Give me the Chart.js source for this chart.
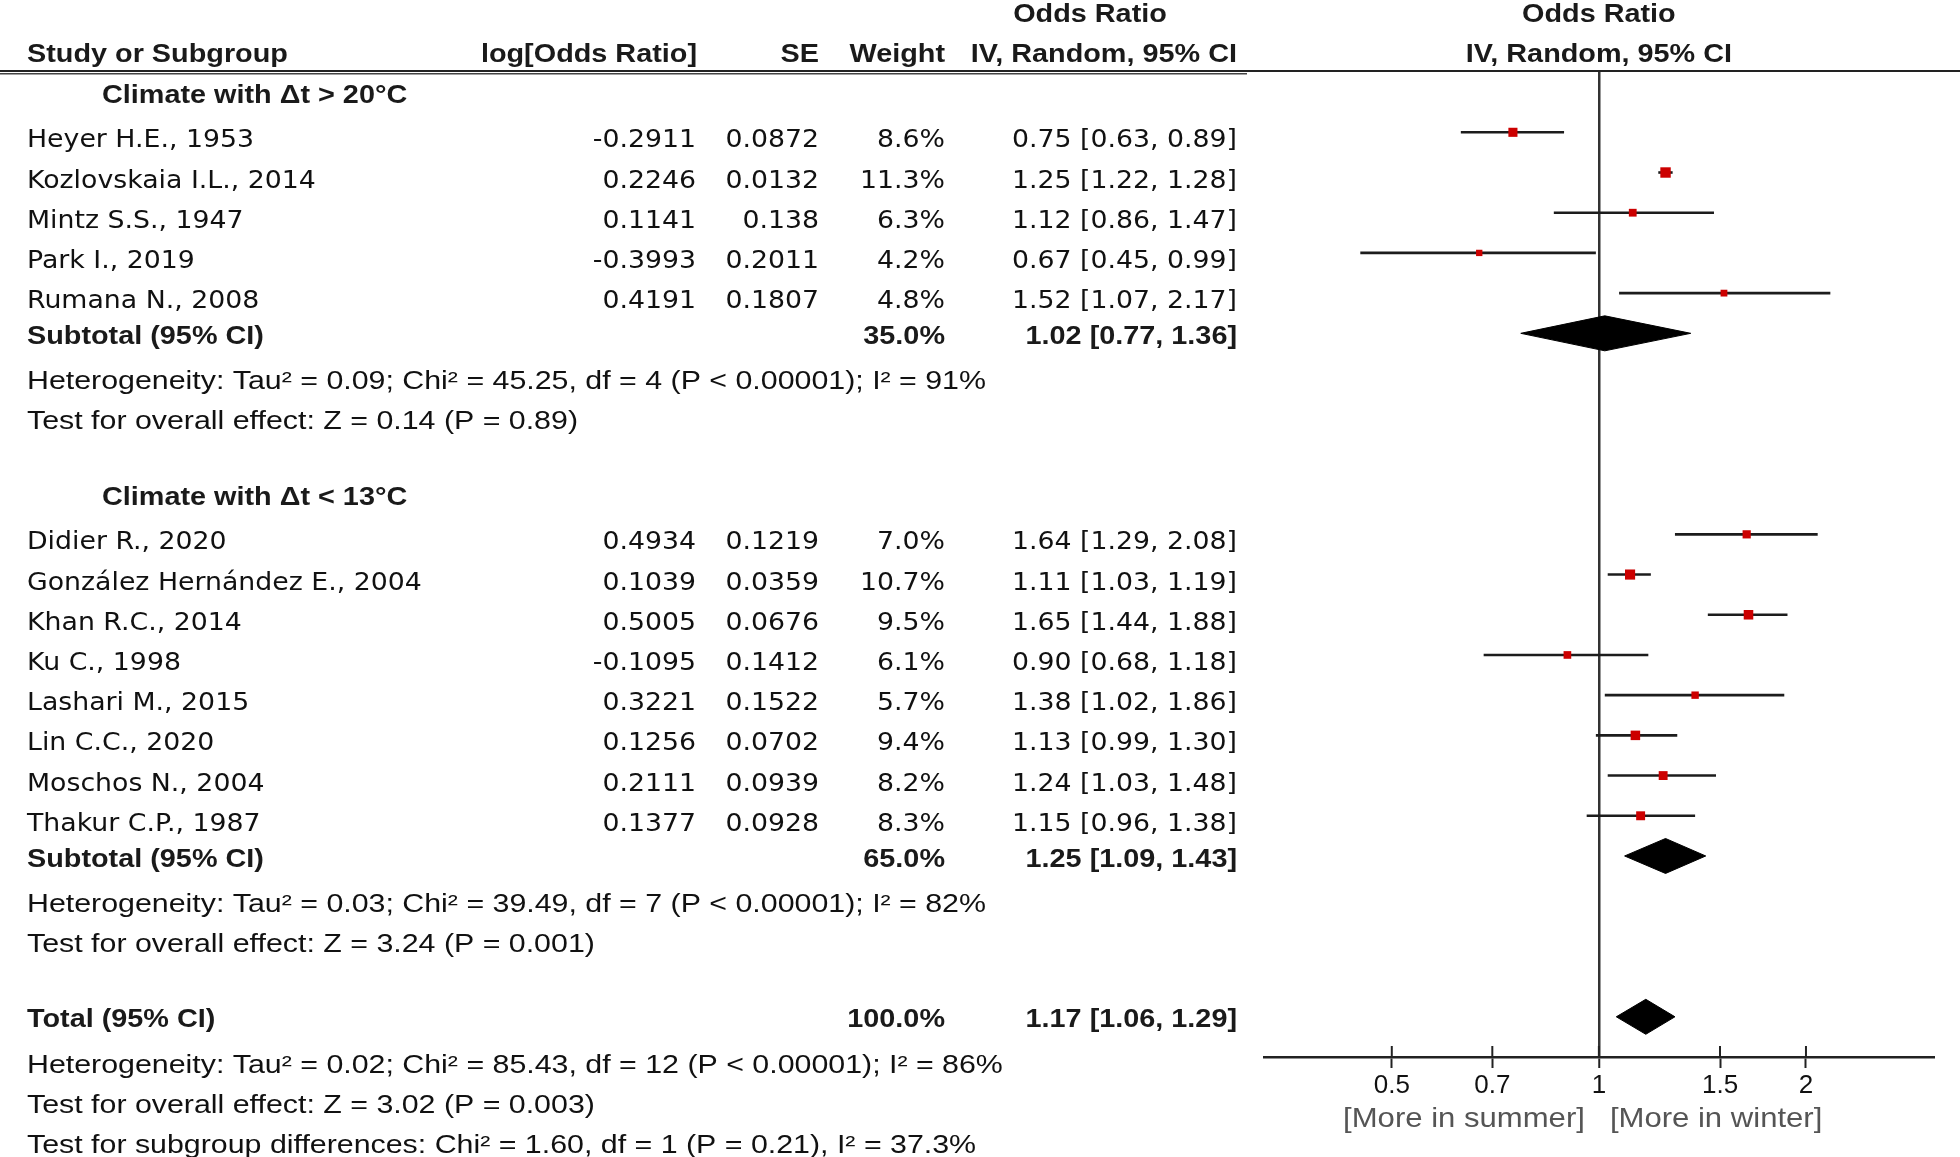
<!DOCTYPE html>
<html>
<head>
<meta charset="utf-8">
<script src="https://cdn.jsdelivr.net/npm/chart.js@4.4.1/dist/chart.umd.min.js"></script>
<style>
  html, body { margin: 0; background: #fff; }
  #wrap { width: 1960px; height: 1157px; position: relative; }
</style>
</head>
<body>
<div id="wrap"><canvas id="forest"></canvas></div>
<script>
// studies
const studies = [
    'Heyer H.E., 1953', 'Kozlovskaia I.L., 2014', 'Mintz S.S., 1947', 'Park I., 2019', 'Rumana N., 2008',
    'Didier R., 2020', 'González Hernández E., 2004', 'Khan R.C., 2014', 'Ku C., 1998',
    'Lashari M., 2015', 'Lin C.C., 2020', 'Moschos N., 2004', 'Thakur C.P., 1987'
];
const groupOf = [0, 0, 0, 0, 0, 1, 1, 1, 1, 1, 1, 1, 1];
const logOR = [-0.2911, 0.2246, 0.1141, -0.3993, 0.4191, 0.4934, 0.1039, 0.5005, -0.1095, 0.3221, 0.1256, 0.2111, 0.1377];
const seVals = [0.0872, 0.0132, 0.138, 0.2011, 0.1807, 0.1219, 0.0359, 0.0676, 0.1412, 0.1522, 0.0702, 0.0939, 0.0928];
const weightPct = [8.6, 11.3, 6.3, 4.2, 4.8, 7.0, 10.7, 9.5, 6.1, 5.7, 9.4, 8.2, 8.3];
const orMid = [0.75, 1.25, 1.12, 0.67, 1.52, 1.64, 1.11, 1.65, 0.90, 1.38, 1.13, 1.24, 1.15];
const ciLow = [0.63, 1.22, 0.86, 0.45, 1.07, 1.29, 1.03, 1.44, 0.68, 1.02, 0.99, 1.03, 0.96];
const ciHigh = [0.89, 1.28, 1.47, 0.99, 2.17, 2.08, 1.19, 1.88, 1.18, 1.86, 1.30, 1.48, 1.38];

// subgroups
const groupNames = ['Climate with \u0394t > 20°C', 'Climate with \u0394t < 13°C'];
const subWeight = [35.0, 65.0];
const subOR = [1.02, 1.25];
const subLow = [0.77, 1.09];
const subHigh = [1.36, 1.43];
const hetLines = [
    'Heterogeneity: Tau² = 0.09; Chi² = 45.25, df = 4 (P < 0.00001); I² = 91%',
    'Heterogeneity: Tau² = 0.03; Chi² = 39.49, df = 7 (P < 0.00001); I² = 82%'
];
const testLines = [
    'Test for overall effect: Z = 0.14 (P = 0.89)',
    'Test for overall effect: Z = 3.24 (P = 0.001)'
];

// overall
const totalWeight = 100.0;
const totalOR = 1.17, totalLow = 1.06, totalHigh = 1.29;
const totalNotes = [
    'Heterogeneity: Tau² = 0.02; Chi² = 85.43, df = 12 (P < 0.00001); I² = 86%',
    'Test for overall effect: Z = 3.02 (P = 0.003)',
    'Test for subgroup differences: Chi² = 1.60, df = 1 (P = 0.21), I² = 37.3%'
];

// axis
const xTicks = [0.5, 0.7, 1, 1.5, 2];
const axisMin = 0.326, axisMax = 3.07;
const favourLabels = ['[More in summer]', '[More in winter]'];

//rows (one per text line)
const studyRow = [], headRow = [], subRow = [], hetRow = [], testRow = [];
let r = 2;
[0, 1].forEach(g => {
    headRow[g] = r++;
    groupOf.forEach((gg, i) => { if (gg === g) studyRow[i] = r++; });
    subRow[g] = r++;
    hetRow[g] = r++;
    testRow[g] = r++;
    r++;
});
const totalRow = r;
const dh = 0.435; // diamond half height in rows

//styles
const REG = { font: '25px "DejaVu Sans"', sx: 1.07, color: '#111' };
const NOTE = { font: '25.5px "Liberation Sans"', sx: 1.19, color: '#111' };
const BOLD = { font: 'bold 25.5px "Liberation Sans"', sx: 1.13, color: '#1a1a1a' };
const FAV = { font: '28px "Liberation Sans"', sx: 1.11, color: '#555' };

function txt(ctx, s, x, y, st, align) {
    ctx.save();
    ctx.translate(x, y);
    ctx.scale(st.sx, 1);
    ctx.font = st.font;
    ctx.fillStyle = st.color;
    ctx.textAlign = align || 'left';
    ctx.textBaseline = 'middle';
    ctx.fillText(s, 0, 0);
    ctx.restore();
}
const ciText = (o, l, h) => o.toFixed(2) + ' [' + l.toFixed(2) + ', ' + h.toFixed(2) + ']';

const tablePlugin = {
    id: 'tableText',
    afterDraw(chart) {
        const ctx = chart.ctx, ys = chart.scales.y, xs = chart.scales.x;
        const area = chart.chartArea;
        const yReg = (row) => ys.getPixelForValue(row) + 8.5;
        const yBold = (row) => ys.getPixelForValue(row) + 3.5;
        const xOne = xs.getPixelForValue(1);

        // header
        txt(ctx, 'Odds Ratio', 1090, yBold(0), BOLD, 'center');
        txt(ctx, 'Odds Ratio', xOne, yBold(0), BOLD, 'center');
        txt(ctx, 'Study or Subgroup', 27, yBold(1), BOLD);
        txt(ctx, 'log[Odds Ratio]', 697, yBold(1), BOLD, 'right');
        txt(ctx, 'SE', 819, yBold(1), BOLD, 'right');
        txt(ctx, 'Weight', 945, yBold(1), BOLD, 'right');
        txt(ctx, 'IV, Random, 95% CI', 1237, yBold(1), BOLD, 'right');
        txt(ctx, 'IV, Random, 95% CI', xOne, yBold(1), BOLD, 'center');

        ctx.save();
        ctx.strokeStyle = '#222';
        ctx.lineWidth = 2;
        ctx.beginPath(); ctx.moveTo(0, area.top - 1); ctx.lineTo(1960, area.top - 1); ctx.stroke();
        ctx.lineWidth = 1.5;
        ctx.strokeStyle = '#444';
        ctx.beginPath(); ctx.moveTo(0, area.top + 1.8); ctx.lineTo(1247, area.top + 1.8); ctx.stroke();
        ctx.restore();

        // groups
        [0, 1].forEach(g => {
            txt(ctx, groupNames[g], 102, yBold(headRow[g]), BOLD);
            txt(ctx, 'Subtotal (95% CI)', 27, yBold(subRow[g]), BOLD);
            txt(ctx, subWeight[g].toFixed(1) + '%', 945, yBold(subRow[g]), BOLD, 'right');
            txt(ctx, ciText(subOR[g], subLow[g], subHigh[g]), 1237, yBold(subRow[g]), BOLD, 'right');
            txt(ctx, hetLines[g], 27, yReg(hetRow[g]), NOTE);
            txt(ctx, testLines[g], 27, yReg(testRow[g]), NOTE);
        });
        studies.forEach((s, i) => {
            const y = yReg(studyRow[i]);
            txt(ctx, s, 27, y, REG);
            txt(ctx, String(logOR[i]), 696, y, REG, 'right');
            txt(ctx, String(seVals[i]), 819, y, REG, 'right');
            txt(ctx, weightPct[i].toFixed(1) + '%', 945, y, REG, 'right');
            txt(ctx, ciText(orMid[i], ciLow[i], ciHigh[i]), 1237, y, REG, 'right');
        });

        // total
        txt(ctx, 'Total (95% CI)', 27, yBold(totalRow), BOLD);
        txt(ctx, totalWeight.toFixed(1) + '%', 945, yBold(totalRow), BOLD, 'right');
        txt(ctx, ciText(totalOR, totalLow, totalHigh), 1237, yBold(totalRow), BOLD, 'right');
        totalNotes.forEach((s, k) => txt(ctx, s, 27, yReg(totalRow + 1 + k), NOTE));

        // tick marks above the axis line
        ctx.save();
        ctx.strokeStyle = '#222';
        ctx.lineWidth = 2;
        xTicks.forEach(v => {
            const px = xs.getPixelForValue(v);
            ctx.beginPath(); ctx.moveTo(px, area.bottom - 11); ctx.lineTo(px, area.bottom); ctx.stroke();
        });
        ctx.restore();

        // favours labels
        txt(ctx, favourLabels[0], xOne - 14, area.bottom + 62, FAV, 'right');
        txt(ctx, favourLabels[1], xOne + 11, area.bottom + 62, FAV, 'left');
    }
};

//data
const ciSets = studies.map((s, i) => ({
    type: 'line',
    data: [{ x: ciLow[i], y: studyRow[i] }, { x: ciHigh[i], y: studyRow[i] }],
    borderColor: '#1c1c1c',
    borderWidth: 2.6,
    pointRadius: 0,
    fill: false,
    order: 2
}));
const diamonds = [
    { o: subOR[0], l: subLow[0], h: subHigh[0], row: subRow[0] },
    { o: subOR[1], l: subLow[1], h: subHigh[1], row: subRow[1] },
    { o: totalOR, l: totalLow, h: totalHigh, row: totalRow }
];
const diamondSets = diamonds.map(d => ({
    type: 'line',
    data: [
        { x: d.l, y: d.row }, { x: d.o, y: d.row - dh }, { x: d.h, y: d.row },
        { x: d.o, y: d.row + dh }, { x: d.l, y: d.row }
    ],
    borderColor: '#000',
    borderWidth: 1,
    backgroundColor: '#000',
    fill: 'shape',
    tension: 0,
    pointRadius: 0,
    order: 1
}));
const pointSet = {
    type: 'scatter',
    data: studies.map((s, i) => ({ x: orMid[i], y: studyRow[i] })),
    pointStyle: 'rect',
    pointRadius: c => 3.1 * Math.sqrt(weightPct[c.dataIndex]) / Math.SQRT2,
    backgroundColor: '#cc0000',
    borderWidth: 0,
    order: 0
};

//config
const config = {
    type: 'scatter',
    data: { datasets: [...ciSets, ...diamondSets, pointSet] },
    plugins: [tablePlugin],
    options: {
        responsive: true,
        maintainAspectRatio: false,
        animation: false,
        devicePixelRatio: 1,
        events: [],
        layout: { padding: { left: 1264, right: 26, top: 72, bottom: 0 } },
        plugins: { legend: { display: false }, tooltip: { enabled: false } },
        scales: {
            x: {
                type: 'logarithmic',
                position: 'bottom',
                bounds: 'data',
                min: axisMin,
                max: axisMax,
                afterBuildTicks: s => { s.ticks = xTicks.map(v => ({ value: v })); },
                afterFit: s => { s.height = 100; },
                ticks: {
                    autoSkip: false,
                    maxRotation: 0,
                    padding: 2,
                    color: '#111',
                    font: { family: 'Liberation Sans', size: 26 },
                    callback: v => String(v)
                },
                grid: {
                    drawTicks: true,
                    tickLength: 11,
                    tickColor: '#222',
                    tickWidth: 2,
                    color: c => (c.tick && c.tick.value === 1) ? '#333' : 'rgba(0,0,0,0)',
                    lineWidth: c => (c.tick && c.tick.value === 1) ? 2.5 : 1
                },
                border: { display: true, color: '#222', width: 2.5 }
            },
            y: {
                type: 'linear',
                reverse: true,
                bounds: 'data',
                min: 1.5,
                max: 26,
                display: false
            }
        }
    }
};

//rendering
const forestChart = new Chart(document.getElementById('forest'), config);
</script>
</body>
</html>
